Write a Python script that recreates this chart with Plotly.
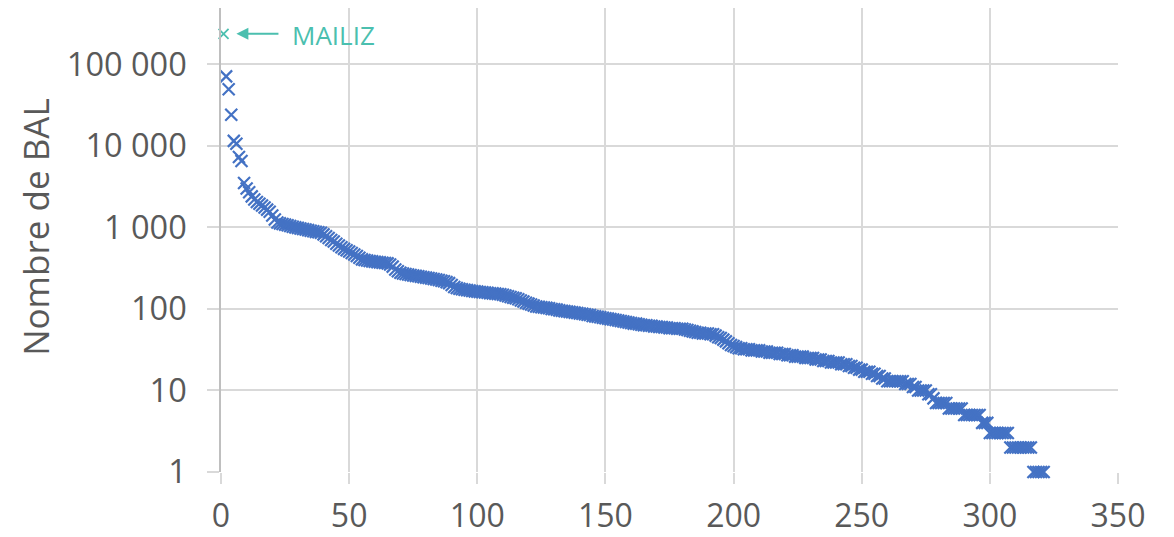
import math
import plotly.graph_objects as go

# ---- data ----
mailiz_rank = 1
mailiz_value = 236000
mailiz_label = "MAILIZ"

# number of BAL per rank, ranks 2..321
head_values = [71000, 49500, 24000, 11500, 10600, 7300, 6500, 3500, 3000,
               2700, 2400, 2200, 2050, 1950, 1850, 1750, 1650, 1550, 1400,
               1250, 1150, 1120, 1100, 1080, 1060, 1040, 1020, 1000, 985,
               970, 955, 940, 925, 910, 895, 880, 870, 860, 820, 780, 740,
               700, 670, 630, 600, 570, 545, 525, 505, 485, 465, 445, 425,
               405, 398, 392, 387, 383, 379, 375, 372, 368, 365, 362, 350,
               330, 305, 290, 278, 272, 268, 264, 260, 257, 254, 251, 248,
               245, 242, 239, 236, 233, 230, 226, 222, 218, 213, 207, 196,
               186, 180, 177, 174, 172, 170, 168, 166, 164, 163]
mid_values = [161, 160, 159, 158, 156, 155, 154, 152, 151, 149, 146, 143,
              140, 137, 135, 131, 127, 123, 119, 116, 113, 110, 107, 106,
              105, 104, 103, 102, 100, 99, 98, 96, 95, 94, 93, 92, 91, 90,
              89, 88, 87, 86, 85, 84, 82, 81, 80, 79, 78, 77, 76, 75, 74,
              73, 72, 71, 70, 69, 68, 67, 66, 66, 65, 64, 63, 63, 62, 62,
              61, 61, 60, 60, 59, 59, 58, 58, 58, 57, 57, 57, 56, 55, 54,
              53, 52, 51, 51, 50, 50, 50, 49, 49, 47, 45, 44, 42, 40, 38,
              36, 35]
tail_values = [34, 33, 33, 32, 32, 32, 31, 31, 31, 31, 30, 30, 30, 29, 29,
               29, 29, 28, 28, 28, 27, 27, 27, 26, 26, 26, 26, 25, 25, 25,
               25, 24, 24, 24, 23, 23, 23, 22, 22, 22, 22, 21, 21, 21, 20,
               20, 19, 19, 18, 18, 17, 17, 17, 16, 16, 15, 15, 14, 14, 13,
               13, 13, 13, 13, 13, 13, 12, 12, 12, 11, 11, 10, 10, 10, 10,
               9, 9, 8, 7, 7, 7, 7, 7, 6, 6, 6, 6, 6, 6, 5, 5, 5, 5, 5, 5,
               5, 4, 4, 4, 3, 3, 3, 3, 3, 3, 3, 3, 2, 2, 2, 2, 2, 2, 2, 2,
               2, 1, 1, 1, 1, 1]

x_ticks = [0, 50, 100, 150, 200, 250, 300, 350]
y_tick_vals = [1, 10, 100, 1000, 10000, 100000]
y_tick_text = ["1", "10", "100", "1 000", "10 000", "100 000"]
y_title = "Nombre de BAL"

# ---- build ----
other_values = head_values + mid_values + tail_values
other_ranks = list(range(mailiz_rank + 1, mailiz_rank + 1 + len(other_values)))

BLUE = "#4472C4"
TEAL = "#4BBFAF"
GRID = "#D9D9D9"
TXT = "#595959"
FONT = "Open Sans"
FS = 32.5

fig = go.Figure()
fig.add_trace(go.Scatter(
    x=other_ranks, y=other_values, mode="markers", cliponaxis=False,
    marker=dict(symbol="x-thin", size=12, line=dict(width=2.2, color=BLUE), color=BLUE),
    showlegend=False, hoverinfo="x+y"))
fig.add_trace(go.Scatter(
    x=[mailiz_rank], y=[mailiz_value], mode="markers", cliponaxis=False,
    marker=dict(symbol="x-thin", size=10, line=dict(width=1.8, color=TEAL), color=TEAL),
    showlegend=False, hoverinfo="x+y"))

ly = math.log10(mailiz_value)
# arrow
fig.add_annotation(x=6, y=ly, ax=23, ay=ly, xref="x", yref="y", axref="x", ayref="y",
                   text="", showarrow=True, arrowhead=2, arrowsize=1.2, arrowwidth=2,
                   arrowcolor=TEAL)
# label
fig.add_annotation(x=27, y=ly - 0.01, xref="x", yref="y", text=mailiz_label,
                   showarrow=False, xanchor="left", yanchor="middle",
                   font=dict(family=FONT, size=26, color=TEAL))
# y title
fig.add_annotation(x=-0.207, y=0.527, xref="paper", yref="paper", text=y_title,
                   textangle=-90, showarrow=False, xanchor="center", yanchor="middle",
                   font=dict(family=FONT, size=35, color=TXT))

fig.update_layout(
    width=1174, height=537,
    margin=dict(l=221, r=56, t=8, b=65, pad=0, autoexpand=False),
    paper_bgcolor="white", plot_bgcolor="white",
    font=dict(family=FONT, size=FS, color=TXT),
)
fig.update_xaxes(range=[0, 350], tickvals=x_ticks, showgrid=True, gridcolor=GRID,
                 gridwidth=1.5, zeroline=False, showline=False, automargin=False,
                 ticks="outside", ticklen=11, tickcolor=GRID, tickwidth=1.5,
                 tickfont=dict(family=FONT, size=32, color=TXT), ticklabelstandoff=5)
fig.update_yaxes(type="log", range=[0, 5.69], tickvals=y_tick_vals, ticktext=y_tick_text,
                 showgrid=True, gridcolor=GRID, gridwidth=1.5, zeroline=False,
                 showline=True, linecolor="#BFBFBF", linewidth=1.5, automargin=False,
                 ticks="outside", ticklen=12, tickcolor=GRID, tickwidth=1.5,
                 tickfont=dict(family=FONT, size=FS, color=TXT), ticklabelstandoff=14)

fig.write_html("out.html", config={"displayModeBar": False},
               post_script="document.body.style.margin='0';document.body.style.overflow='hidden';")
